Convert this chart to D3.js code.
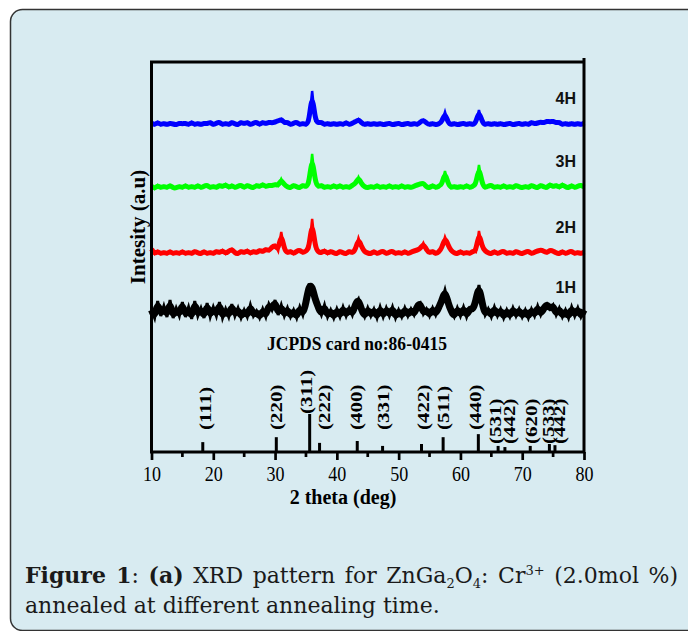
<!DOCTYPE html>
<html>
<head>
<meta charset="utf-8">
<script src="https://cdn.jsdelivr.net/npm/d3@7"></script>
<style>
  body { margin: 0; background: #fff; }
  svg { display: block; }
</style>
</head>
<body>
<svg id="chart" width="688" height="631"></svg>
<script>
// XRD patterns, 2theta grid from 10 to 80 deg, step 0.5 deg
const thetaStart = 10;
const thetaStep = 0.5;

const seriesNames = ["1H", "2H", "3H", "4H"];
const seriesOffsets = [139, 199, 265, 328]; // stacking offset (a.u.)

const i1H = [
  3,-5,12,-3,7,-4,13,-5,5,-3,
  11,-4,6,-6,12,-3,5,-5,10,-4,
  6,-3,11,-5,4,-4,9,-3,5,-5,
  3,-4,8,-3,2,-5,4,-4,9,3,
  13,-2,8,-3,5,-4,3,-5,6,-2,
  10,28,27,13,6,-2,8,-4,3,-5,
  4,-4,6,-3,5,-2,9,14,3,-4,
  5,-3,4,-5,6,-4,5,-3,6,-5,
  3,-4,5,-3,4,-2,7,10,-1,4,
  -3,5,-2,6,12,23,10,2,-4,5,
  -3,6,-4,5,3,12,28,10,-2,4,
  -4,6,-3,4,-5,3,-4,5,-3,4,
  -4,3,-5,4,-3,7,-2,5,9,4,
  8,-2,5,-4,3,-5,6,-3,5,-4,
  3
];
const i2H = [
  4,-1,2,-1,1,-1,2,-1,1,-1,
  2,-1,1,-1,2,0,-1,2,-1,1,
  -1,2,0,3,-1,2,4,0,-1,2,
  0,3,-1,2,0,3,1,4,2,6,
  8,2,21,3,0,2,-1,2,3,0,
  2,4,34,5,1,0,3,-1,2,0,
  -1,2,0,-1,2,0,3,15,6,1,
  0,-1,2,-1,1,2,-1,1,2,-1,
  1,-1,2,-1,1,2,3,4,10,3,
  0,2,-1,1,5,16,8,2,0,-1,
  2,-1,1,-1,2,1,22,6,2,0,
  -1,2,-1,1,2,-1,1,-1,2,0,
  -1,1,2,-1,1,2,3,2,0,3,
  2,0,-1,2,-1,1,2,-1,1,-1,
  1
];
const i3H = [
  1,-2,2,-1,1,-1,2,-1,-1,1,
  -1,2,-1,1,-1,2,-1,1,2,-1,
  1,-1,2,0,3,-1,2,-1,1,2,
  -1,2,0,-1,2,0,3,0,2,1,
  3,1,8,2,0,-1,2,0,-1,2,
  0,3,33,4,0,2,-1,1,-1,2,
  -1,2,-1,1,-1,2,3,10,3,0,
  -1,1,-1,2,-1,1,-1,2,-1,1,
  -1,2,-1,1,-1,1,2,3,4,0,
  -1,2,-1,1,2,16,3,-1,1,-1,
  1,-1,2,-1,1,2,22,3,-1,1,
  2,-1,1,-1,2,-1,1,-1,2,0,
  -1,1,-1,2,0,-1,2,0,-1,3,
  0,2,-1,3,0,-1,2,-1,1,2,
  0
];
const i4H = [
  1,-1,2,-1,1,-1,1,0,-1,1,
  0,1,-1,2,-1,1,-1,1,0,2,
  -1,1,2,-1,1,-1,2,0,-1,2,
  0,2,-1,1,2,-1,2,0,2,1,
  2,3,5,1,2,-1,1,2,-1,1,
  -1,2,33,3,1,2,-1,1,-1,1,
  -1,1,-1,2,-1,1,2,5,1,-1,
  1,-1,1,-1,1,-1,0,1,-1,0,
  1,-1,0,1,-1,1,-1,2,4,1,
  -1,1,-1,0,2,12,1,-1,1,-1,
  0,1,-1,1,-1,1,14,2,-1,1,
  -1,1,-1,1,-1,0,1,-1,0,1,
  -1,1,-1,2,0,1,2,1,3,2,
  3,1,2,-1,1,-1,1,-1,1,-1,
  1
];

// JCPDS card no: 86-0415 reference lines
const hklLabels = ["(111)", "(220)", "(311)", "(222)", "(400)", "(331)", "(422)",
                   "(511)", "(440)", "(531)", "(442)", "(620)", "(533)", "(442)"];
const stickTheta = [18.3, 30.2, 35.6, 37.2, 43.3, 47.4, 53.7, 57.2, 62.9, 66.1, 67.2, 71.3, 74.4, 75.3];
const stickRel = [26, 39, 100, 24, 29, 16, 21, 39, 47, 16, 13, 16, 21, 18];
const labelTheta = [18.7, 30.2, 35.1, 38.0, 43.1, 47.6, 54.0, 57.3, 62.4, 65.6, 68.0, 71.5, 74.2, 76.1];

const majorTicks = [10, 20, 30, 40, 50, 60, 70, 80];
const minorTicks = [15, 25, 35, 45, 55, 65, 75];

(function () {
  const svg = d3.select("#chart");
  const colors = { "1H": "#000000", "2H": "#ff0000", "3H": "#00ff00", "4H": "#0000ff" };
  const seriesValues = { "1H": i1H, "2H": i2H, "3H": i3H, "4H": i4H };
  const serif = "Liberation Serif, Times New Roman, serif";

  const left = 151.5, right = 584, top = 62, bottom = 452;

  // panel background
  svg.append("rect")
    .attr("x", 10.5).attr("y", 9.5)
    .attr("width", 700).attr("height", 621)
    .attr("rx", 12).attr("ry", 12)
    .attr("fill", "#d8ebf1")
    .attr("stroke", "#333")
    .attr("stroke-width", 1.5);

  const x = d3.scaleLinear().domain([10, 80]).range([left, right]);
  const y = d3.scaleLinear().domain([0, 390]).range([bottom, top]);
  const stickH = d3.scaleLinear().domain([0, 100]).range([0, 38]);

  // curves: a smoothed body underneath, the raw jagged trace on top
  const lineRaw = d3.line()
    .x((d, i) => x(thetaStart + i * thetaStep))
    .y(d => d);
  const lineBody = d3.line()
    .x((d, i) => x(thetaStart + i * thetaStep))
    .y(d => d)
    .curve(d3.curveBasis);

  seriesNames.forEach((name, k) => {
    const vals = seriesValues[name];
    const pts = vals.map(v => y(seriesOffsets[k] + v));
    const g = svg.append("g");
    g.append("path")
      .datum(pts)
      .attr("fill", "none")
      .attr("stroke", colors[name])
      .attr("stroke-width", name === "1H" ? 7 : 5)
      .attr("d", lineBody);
    g.append("path")
      .datum(pts)
      .attr("fill", "none")
      .attr("stroke", colors[name])
      .attr("stroke-width", name === "1H" ? 3 : 2.5)
      .attr("stroke-linejoin", "miter")
      .attr("d", lineRaw);

    svg.append("text")
      .attr("x", 576)
      .attr("y", y(seriesOffsets[k]) - 20)
      .attr("text-anchor", "end")
      .attr("font-family", "Liberation Sans, Arial, sans-serif")
      .attr("font-weight", "bold")
      .attr("font-size", 16)
      .attr("fill", "#111")
      .text(name);
  });

  // reference sticks
  svg.append("g").selectAll("line")
    .data(stickTheta)
    .join("line")
    .attr("x1", d => x(d)).attr("x2", d => x(d))
    .attr("y1", bottom)
    .attr("y2", (d, i) => bottom - stickH(stickRel[i]))
    .attr("stroke", "#000")
    .attr("stroke-width", 3);

  svg.append("g").selectAll("text")
    .data(hklLabels)
    .join("text")
    .attr("transform", (d, i) => {
      const topY = bottom - stickH(stickRel[i]);
      const yb = stickTheta[i] > 65 ? 444 : Math.min(topY, 430);
      return `translate(${x(labelTheta[i])},${yb}) rotate(-90) scale(1,0.8)`;
    })
    .attr("dy", "0.33em")
    .attr("font-family", serif)
    .attr("font-weight", "bold")
    .attr("font-size", 21)
    .text(d => d);

  svg.append("text")
    .attr("x", 357).attr("y", 350)
    .attr("text-anchor", "middle")
    .attr("font-family", serif)
    .attr("font-weight", "bold")
    .attr("font-size", 19)
    .attr("textLength", 180)
    .attr("lengthAdjust", "spacingAndGlyphs")
    .text("JCPDS card no:86-0415");

  // x axis
  const axis = svg.append("g")
    .attr("transform", `translate(0,${bottom})`)
    .call(d3.axisBottom(x).tickValues(majorTicks).tickSize(8).tickPadding(6).tickFormat(d3.format("d")));
  axis.select(".domain").remove();
  axis.selectAll(".tick line").attr("stroke-width", 2.7);
  axis.selectAll(".tick text")
    .attr("font-family", serif)
    .attr("font-size", 21)
    .attr("fill", "#000")
    .attr("textLength", 18)
    .attr("lengthAdjust", "spacingAndGlyphs");

  svg.append("g").selectAll("line")
    .data(minorTicks)
    .join("line")
    .attr("x1", d => x(d)).attr("x2", d => x(d))
    .attr("y1", bottom).attr("y2", bottom + 5)
    .attr("stroke", "#000")
    .attr("stroke-width", 2.7);

  // frame
  svg.append("path")
    .attr("d", `M${left},${bottom}V${top}H${right}M${right},58V${bottom}M${left - 1.5},${bottom}H${right + 1.5}`)
    .attr("fill", "none")
    .attr("stroke", "#000")
    .attr("stroke-width", 3);

  // axis titles
  svg.append("text")
    .attr("x", 343).attr("y", 504)
    .attr("text-anchor", "middle")
    .attr("font-family", serif)
    .attr("font-weight", "bold")
    .attr("font-size", 20)
    .text("2 theta (deg)");

  svg.append("text")
    .attr("transform", "translate(145,227) rotate(-90)")
    .attr("text-anchor", "middle")
    .attr("font-family", serif)
    .attr("font-weight", "bold")
    .attr("font-size", 21)
    .text("Intesity (a.u)");

  // caption, first line justified to the panel width
  const capFont = "DejaVu Serif, serif";
  const cap = svg.append("text")
    .attr("x", 25).attr("y", 583)
    .attr("font-family", capFont)
    .attr("font-size", 22)
    .attr("fill", "#1a1a1a");
  cap.append("tspan").attr("font-weight", "bold").text("Figure 1");
  cap.append("tspan").text(": ");
  cap.append("tspan").attr("font-weight", "bold").text("(a)");
  cap.append("tspan").text(" XRD pattern for ZnGa");
  cap.append("tspan").attr("font-size", 13).attr("dy", 5).text("2");
  cap.append("tspan").attr("dy", -5).text("O");
  cap.append("tspan").attr("font-size", 13).attr("dy", 5).text("4");
  cap.append("tspan").attr("dy", -5).text(": Cr");
  cap.append("tspan").attr("font-size", 13).attr("dy", -8).text("3+");
  cap.append("tspan").attr("dy", 8).text(" (2.0mol %)");
  const natural = cap.node().getComputedTextLength();
  cap.style("word-spacing", ((653 - natural) / 9) + "px");

  svg.append("text")
    .attr("x", 25).attr("y", 613)
    .attr("font-family", capFont)
    .attr("font-size", 22)
    .attr("fill", "#1a1a1a")
    .text("annealed at different annealing time.");
})();
</script>
</body>
</html>
